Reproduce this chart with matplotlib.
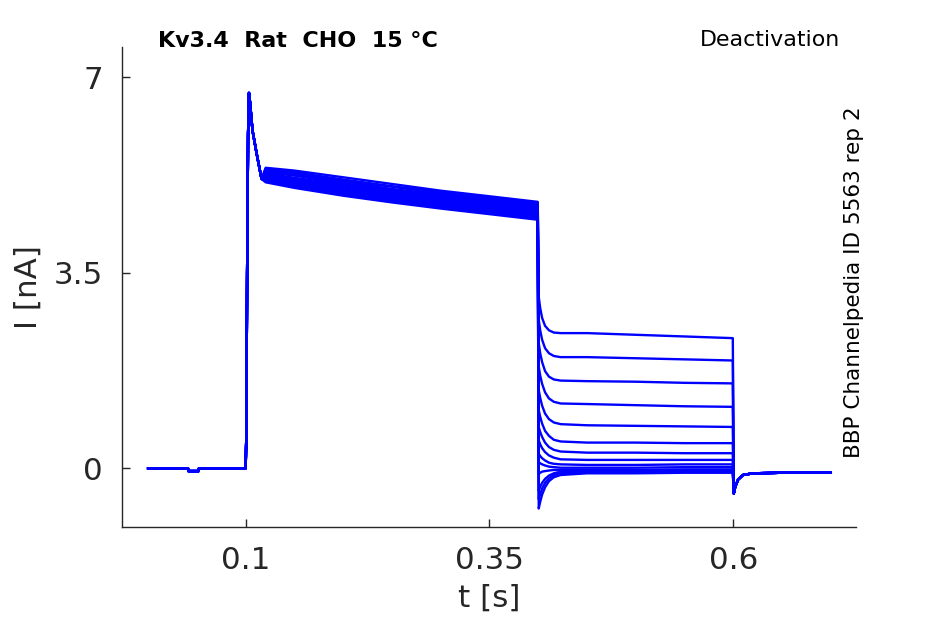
import numpy as np
import matplotlib.pyplot as plt

# Holding segment before the test pulse (shared by all sweeps)
t_base = [0.0, 0.0409, 0.0412, 0.0518, 0.0521, 0.1]
i_base = [0.0, 0.0, -0.05, -0.05, 0.0, 0.0]

# Activation peak right after the step (shared)
t_peak = [0.1007, 0.1015, 0.1025, 0.1034, 0.1045, 0.107, 0.1112, 0.1163]
i_peak = [0.6, 3.5, 6.0, 6.72, 6.55, 6.05, 5.64, 5.18]

# Slowly inactivating plateau, one row per sweep
t_plat = [0.1205, 0.15, 0.2, 0.25, 0.3, 0.35, 0.3995]
i_plat = [
    [5.38, 5.33, 5.21, 5.09, 4.97, 4.87, 4.77],
    [5.35, 5.30, 5.17, 5.05, 4.95, 4.85, 4.75],
    [5.36, 5.28, 5.15, 5.04, 4.92, 4.82, 4.72],
    [5.32, 5.26, 5.13, 5.00, 4.90, 4.80, 4.70],
    [5.30, 5.24, 5.10, 4.99, 4.87, 4.78, 4.68],
    [5.28, 5.20, 5.08, 4.96, 4.85, 4.75, 4.66],
    [5.26, 5.19, 5.05, 4.94, 4.83, 4.73, 4.63],
    [5.24, 5.16, 5.03, 4.91, 4.80, 4.70, 4.61],
    [5.22, 5.14, 5.01, 4.89, 4.78, 4.68, 4.58],
    [5.20, 5.12, 4.98, 4.86, 4.75, 4.65, 4.56],
    [5.18, 5.10, 4.96, 4.84, 4.72, 4.63, 4.53],
    [5.16, 5.07, 4.93, 4.81, 4.70, 4.60, 4.51],
    [5.14, 5.05, 4.91, 4.79, 4.68, 4.57, 4.48],
    [5.12, 5.02, 4.88, 4.76, 4.65, 4.55, 4.45],
]

# Tail currents at the deactivation potentials
t_tail = [0.4005, 0.402, 0.404, 0.407, 0.411, 0.416, 0.423, 0.45, 0.5, 0.55, 0.5995]
i_tail = [
    [3.07, 2.87, 2.69, 2.55, 2.47, 2.43, 2.42, 2.42, 2.39, 2.36, 2.33],
    [2.66, 2.47, 2.30, 2.15, 2.06, 2.01, 1.99, 1.99, 1.97, 1.95, 1.93],
    [2.24, 2.06, 1.90, 1.74, 1.64, 1.59, 1.57, 1.56, 1.55, 1.53, 1.52],
    [1.82, 1.66, 1.51, 1.36, 1.25, 1.19, 1.16, 1.15, 1.13, 1.11, 1.10],
    [1.40, 1.26, 1.12, 0.98, 0.88, 0.82, 0.79, 0.77, 0.76, 0.75, 0.74],
    [1.04, 0.92, 0.80, 0.67, 0.58, 0.51, 0.48, 0.46, 0.46, 0.45, 0.45],
    [0.74, 0.65, 0.56, 0.46, 0.38, 0.33, 0.30, 0.28, 0.28, 0.27, 0.27],
    [0.50, 0.43, 0.36, 0.29, 0.23, 0.19, 0.16, 0.15, 0.15, 0.15, 0.15],
    [0.26, 0.22, 0.18, 0.14, 0.10, 0.08, 0.07, 0.06, 0.06, 0.07, 0.07],
    [0.11, 0.09, 0.07, 0.05, 0.03, 0.02, 0.01, 0.01, 0.01, 0.02, 0.02],
    [-0.10, -0.08, -0.06, -0.05, -0.04, -0.03, -0.03, -0.03, -0.03, -0.02, -0.02],
    [-0.40, -0.33, -0.26, -0.19, -0.13, -0.09, -0.06, -0.05, -0.05, -0.05, -0.04],
    [-0.55, -0.46, -0.36, -0.26, -0.18, -0.12, -0.09, -0.07, -0.07, -0.06, -0.06],
    [-0.72, -0.60, -0.47, -0.34, -0.23, -0.16, -0.12, -0.09, -0.09, -0.08, -0.08],
]

# Return to holding potential (shared)
t_off = [0.6005, 0.602, 0.605, 0.61, 0.62, 0.65, 0.7]
i_off = [-0.45, -0.33, -0.20, -0.12, -0.09, -0.08, -0.07]

fig = plt.figure(figsize=(9.45, 6.24), dpi=100)
ax = fig.add_axes([0.1294, 0.156, 0.7764, 0.7682])

for k in range(len(i_plat)):
    t = np.concatenate([t_base, t_peak, t_plat, t_tail, t_off])
    i = np.concatenate([i_base, i_peak, i_plat[k], i_tail[k], i_off])
    ax.plot(t, i, color='#0000ff', lw=1.7)

ax.set_xlim(-0.0265, 0.7258)
ax.set_ylim(-1.045, 7.537)
ax.set_xticks([0.1, 0.35, 0.6])
ax.set_xticklabels(['0.1', '0.35', '0.6'])
ax.set_yticks([0, 3.5, 7])
ax.set_yticklabels(['0', '3.5', '7'])

ax.spines['top'].set_visible(False)
ax.spines['right'].set_visible(False)
for s in ['left', 'bottom']:
    ax.spines[s].set_color('#262626')
    ax.spines[s].set_linewidth(1.0)
ax.tick_params(direction='in', length=5.5, width=1.0, color='#262626',
               labelsize=22.3, labelcolor='#262626', pad=14)

ax.set_xlabel('t [s]', fontsize=22.3, color='#262626', labelpad=6)
ax.set_ylabel('I [nA]', fontsize=22.3, color='#262626', labelpad=8)

fig.text(0.167, 0.925, 'Kv3.4  Rat  CHO  15 °C', fontsize=16,
         fontweight='bold', ha='left', va='baseline')
fig.text(0.889, 0.926, 'Deactivation', fontsize=15.9, ha='right', va='baseline')
fig.text(0.9035, 0.2655, 'BBP Channelpedia ID 5563 rep 2', fontsize=15.5,
         rotation=90, ha='center', va='bottom')

fig.savefig('out.png', dpi=100)
